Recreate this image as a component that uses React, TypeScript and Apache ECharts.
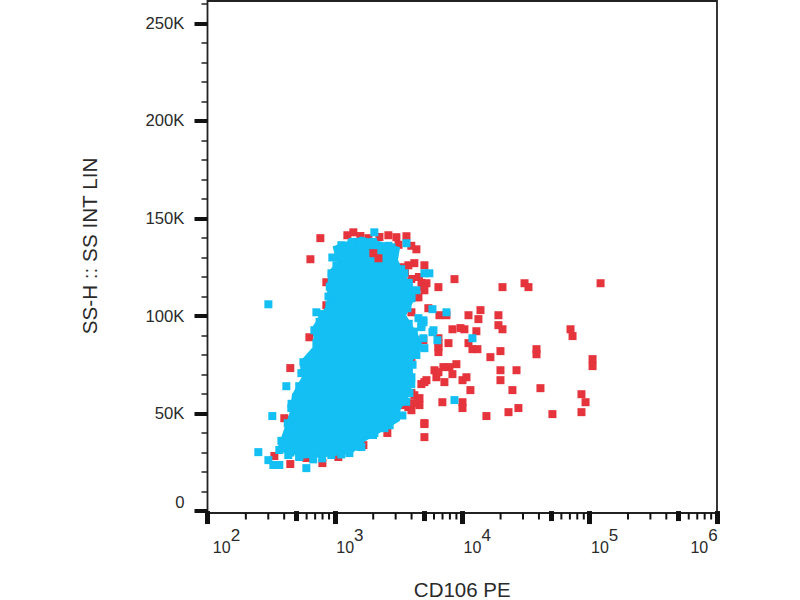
import React, { useEffect, useRef } from "react";
import * as echarts from "echarts";

// point values: [log10 of CD106 PE, SS-H in thousands]
const redPoints = [
  [3.939,118.9],[3.813,114.8],[4.316,114.8],[4.489,116.8],[4.52,114.8],[5.086,116.8],[4.143,103],[4.049,100.4],[4.127,98.4],[4.284,100.4],
  [4.284,95.3],[4.316,93.2],[4.85,93.2],[4.866,89.7],[3.923,93.2],[3.986,93.8],[4.017,93.2],[4.111,92.2],[4.049,86.1],[4.08,83],
  [4.119,83],[4.3,82],[4.221,78.9],[4.583,83],[4.583,80.4],[5.023,77.9],[5.023,74.3],[3.813,84],[3.813,81.5],[3.892,86.1],
  [3.813,86.1],[4.3,72.2],[4.426,72.2],[4.3,67.1],[4.394,62],[4.614,63],[3.954,75.3],[3.782,72.2],[3.852,73.8],[3.899,73.8],
  [3.797,68.6],[3.923,70.2],[3.86,66.1],[4.002,67.1],[4.033,68.6],[4.064,62],[3.719,67.1],[3.679,65.1],[3.844,55.8],[4.002,55.8],
  [4.002,52.8],[4.19,48.7],[4.363,50.7],[4.441,52.8],[4.708,49.7],[4.936,59.9],[4.968,55.8],[4.936,50.7],[3.703,44.6],[3.601,60.5],
  [3.577,53.3],[3.617,55.3],[3.664,57.9],[3.664,54.3],[3.601,51.7],[3.546,54.3],[3.624,59.4],[3.734,104],[3.821,100.4],[3.876,100.4],
  [3.695,87.6],[3.601,76.3],[3.719,116.8],[3.703,113.2],[3.64,109.6],[3.624,127.1],[3.703,126],[2.886,139.9],[2.808,129.1],[3.145,142.9],
  [3.098,141.4],[3.42,141.4],[3.483,140.4],[3.562,140.9],[3.64,134.2],[3.263,139.9],[3.522,125],[3.695,114.8],[3.656,109.6],[2.933,117.3],
  [2.933,105.5],[2.8,89.1],[3.522,104],[3.601,101.9],[3.577,90.2],[3.813,88.6],[2.65,73.3],[2.603,47.6],[2.658,46.6],[2.525,28.2],
  [2.65,24.1],[2.902,24.6],[3.027,27.7],[2.776,27.2],[3.412,40],[3.224,33.8],[3.703,45.1],[3.703,37.9],[3.656,55.8],[3.813,71.2],[3.703,66.1],
  [3.577,126],[3.499,122.4],[3.66,120],[3.68,117],[3.2,141],[3.35,140.5],[3.5,136.5],[3.6,136],[3.55,122],[3.6,119],
];
const redNotch = [[3.302,132.2],[3.342,129.6]];
const cyanPoints = [
  [3.939,56.9],[3.766,91.7],[3.805,87.6],[4.08,88.6],[3.766,103.5],[3.876,101.9],[3.703,121.9],[3.742,121.9],[3.703,83.5],[3.679,94.3],
  [3.695,97.8],[2.478,106],[2.855,101.9],[3.31,142.9],[3.562,137.3],[3.774,92.7],[3.695,96.8],[2.619,64],[2.509,48.7],[2.399,30.2],
  [2.478,26.1],[2.564,23.6],[2.517,23.6],[2.776,22],[3.114,29.7],
  [2.88,97],[2.9,101],[2.76,72],[2.72,64],[2.66,55],[2.63,45],[2.58,36],[2.65,30],[2.72,28],[2.83,26.5],[2.9,27],[3.05,29],[3.18,33],
  [3.3,39],[3.43,44],[3.53,49],[3.56,56],[3.6,65],[3.61,75],[3.64,80],[3.62,92],[3.58,96],[3.57,104],[3.6,110],[3.58,117],[3.52,124],
  [3.46,131],[3.42,136],[3.3,138],[3.14,138],[3.04,134],[2.98,130],[2.96,115],[2.95,110],
  [3.051,136.3],[3.13,137.3],[3.444,135.2],[3.46,128.6],[3.546,121.9],[3.577,115.8],[3.64,113.2],[3.601,109.1],[3.656,98.9],[3.679,95.3],
  [3.695,88.6],[3.012,126],[2.973,121.9],[2.973,112.2],[2.957,105.5],[2.894,96.8],[2.839,92.7],[2.855,86.1],[2.753,76.3],[2.737,70.7],
  [2.697,58.4],[2.658,52.8],[2.697,45.6],[2.634,40],[2.619,36.4],[2.564,31.3],[2.634,28.7],[2.721,27.7],[2.972,28.7],[3.208,32.8],
  [3.31,40],[3.389,42.5],[3.483,50.7],[3.585,60.5],[3.601,68.6],[3.616,80.9],
];
// outline of the saturated cyan population
const cyanCore = [
  [2.996,135.2],[3.09,137.3],[3.208,139.9],[3.365,137.3],[3.499,134.7],[3.483,128.6],[3.546,119.9],[3.624,113.2],[3.601,107.1],[3.546,100.4],
  [3.656,88.6],[3.679,84],[3.601,77.4],[3.601,70.7],[3.585,60.5],[3.499,51.7],[3.499,46.6],[3.365,41.5],[3.232,36.4],[3.13,30.2],
  [2.972,28.7],[2.76,27.7],[2.682,29.7],[2.556,31.3],[2.603,40],[2.658,50.7],[2.674,59.4],[2.753,68.6],[2.737,76.3],[2.855,85],
  [2.831,93.8],[2.949,105.5],[2.957,122.4],[3.027,127.1],
];
const xMajor = [100, 1000, 10000, 100000, 1000000];
const xMedium = [500, 5000, 50000, 500000];
const xMinor = [200,300,400,600,700,800,900,2000,3000,4000,6000,7000,8000,9000,20000,30000,40000,60000,70000,80000,90000,200000,300000,400000,600000,700000,800000,900000];
const yMajor = [0, 50000, 100000, 150000, 200000, 250000];
const yMinor = [10000,20000,30000,40000,60000,70000,80000,90000,110000,120000,130000,140000,160000,170000,180000,190000,210000,220000,230000,240000,260000];
const yLabels: Record<number,string> = { 0:"0", 50000:"50K", 100000:"100K", 150000:"150K", 200000:"200K", 250000:"250K" };
const xTitle = "CD106 PE";
const yTitle = "SS-H :: SS INT LIN";

const RED = "#e5343c";
const CYAN = "#13bff3";
const INK = "#2a2a2a";
const FONT = "'Liberation Sans', Arial, sans-serif";
const Y_MIN = -1000;
const toXY = (p: number[]) => [Math.pow(10, p[0]), p[1] * 1000];

const xBase = { type: "log", logBase: 10, min: 100, max: 1000000, position: "bottom", splitLine: { show: false }, minorTick: { show: false }, axisLine: { show: false } };
const yBase = { type: "value", min: Y_MIN, max: 261500, position: "left", splitLine: { show: false }, minorTick: { show: false }, axisLine: { show: false } };

export default function App() {
  const ref = useRef<HTMLDivElement>(null);
  useEffect(() => {
    const chart = echarts.init(ref.current!, undefined, { renderer: "svg" });
    const square = (name: string, data: number[][], color: string, z: number) => ({
      name, type: "scatter", symbol: "rect", symbolSize: 8, z, data: data.map(toXY), itemStyle: { color, opacity: 1 }, silent: true,
    });
    chart.setOption({
      animation: false,
      backgroundColor: "#fff",
      textStyle: { fontFamily: FONT },
      grid: { left: 207.5, right: 83, top: 1, bottom: 87, outerBoundsMode: "none", show: true, borderColor: "#222", borderWidth: 1.8, backgroundColor: "#fff" },
      xAxis: [
        { ...xBase, name: xTitle, nameLocation: "middle", nameGap: 66, nameTextStyle: { fontSize: 20.5, color: INK, fontFamily: FONT },
          axisTick: { show: true, length: 13, customValues: xMajor, lineStyle: { color: "#111", width: 5 } },
          axisLabel: { show: true, customValues: xMajor, margin: 12, hideOverlap: false, showMinLabel: true, showMaxLabel: true,
            formatter: (v: number) => {
              const e = Math.round(Math.log10(v));
              if (e === 6) return `{c|10}{d|6}`;
              return e === 2 ? `{e|10}{b|2}` : `{a|10}{b|${e}}`;
            },
            rich: {
              a: { fontSize: 16, color: INK, fontFamily: FONT, padding: [0,0,0,30], lineHeight: 30, verticalAlign: "bottom" },
              e: { fontSize: 16, color: INK, fontFamily: FONT, padding: [0,0,0,38], lineHeight: 30, verticalAlign: "bottom" },
              b: { fontSize: 17, color: INK, fontFamily: FONT, padding: [0,0,11,0], verticalAlign: "bottom" },
              c: { fontSize: 16, color: INK, fontFamily: FONT, lineHeight: 30, verticalAlign: "bottom" },
              d: { fontSize: 17, color: INK, fontFamily: FONT, padding: [0,26,11,0], verticalAlign: "bottom" },
            } } },
        { ...xBase, axisLabel: { show: false }, axisTick: { show: true, length: 10, customValues: xMedium, lineStyle: { color: "#111", width: 5 } } },
      ],
      yAxis: [
        { ...yBase, name: yTitle, nameLocation: "middle", nameGap: 108, nameTextStyle: { fontSize: 20.7, color: INK, fontFamily: FONT, padding: [0,0,0,22] },
          axisTick: { show: true, length: 13, customValues: yMajor, lineStyle: { color: "#111", width: 4 } },
          axisLabel: { show: true, customValues: yMajor, margin: 23, fontSize: 16.7, color: INK, fontFamily: FONT, verticalAlignMinLabel: "bottom", formatter: (v: number) => yLabels[v] ?? "" } },
        { ...yBase, axisLabel: { show: false }, axisTick: { show: true, length: 6, customValues: yMinor, lineStyle: { color: "#222", width: 1.5 } } },
      ],
      series: [
        square("red", redPoints, RED, 2),
        {
          type: "custom", name: "cyan core", z: 3, silent: true, clip: false,
          data: [[1000, 80000]],
          renderItem: (_p: any, api: any) => ({
            type: "polygon",
            shape: { points: cyanCore.map((p) => api.coord(toXY(p))) },
            style: { fill: CYAN, stroke: CYAN, lineWidth: 3, lineJoin: "miter" },
          }),
        },
        square("red notch", redNotch, RED, 4),
        square("cyan", cyanPoints, CYAN, 5),
        {
          type: "custom", name: "x minor ticks", z: 6, silent: true, clip: false,
          data: xMinor.map((v) => [v, Y_MIN]),
          renderItem: (_p: any, api: any) => {
            const c = api.coord([api.value(0), api.value(1)]);
            return { type: "line", shape: { x1: c[0], y1: c[1], x2: c[0], y2: c[1] + 6.5 }, style: { stroke: "#111", lineWidth: 2 } };
          },
        },
      ],
    });
    return () => chart.dispose();
  }, []);
  return <div ref={ref} style={{ position: "absolute", left: 0, top: 0, width: 800, height: 600 }} />;
}
